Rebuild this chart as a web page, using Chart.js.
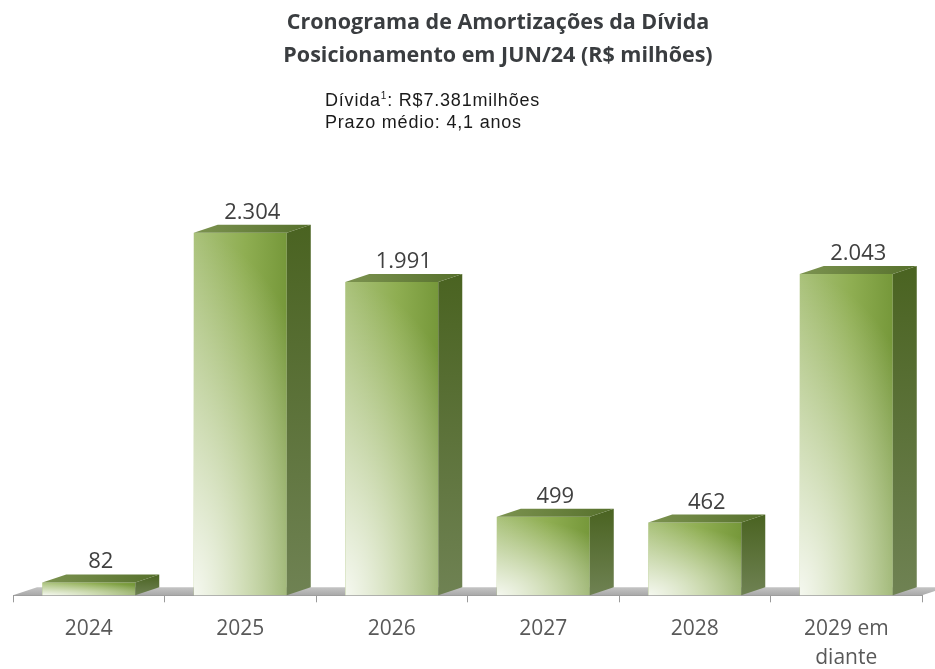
<!DOCTYPE html>
<html>
<head>
<meta charset="utf-8">
<script src="https://cdn.jsdelivr.net/npm/chart.js@4.4.1/dist/chart.umd.min.js"></script>
<style>
  body { margin: 0; background: #fff; }
  #wrap { position: relative; width: 935px; height: 669px; }
  #chart { position: absolute; left: 0; top: 0; }
  .titulo {
    position: absolute; left: 498px; top: 4px; transform: translateX(-50%);
    font-family: "Open Sans", sans-serif; font-weight: 700; font-size: 21.5px;
    line-height: 33px; color: #3a3d40; text-align: center; white-space: nowrap;
  }
  .info {
    position: absolute; left: 325px; top: 89px;
    font-family: "Liberation Sans", Arial, sans-serif; font-size: 18px;
    letter-spacing: 0.8px;
    line-height: 22px; color: #1a1a1a; white-space: nowrap;
  }
  .info sup { font-size: 10px; vertical-align: 7px; line-height: 0; }
</style>
</head>
<body>
<div id="wrap">
  <canvas id="chart" width="935" height="669"></canvas>
  <div class="titulo">Cronograma de Amortizações da Dívida<br>Posicionamento em JUN/24 (R$ milhões)</div>
  <div class="info">Dívida<sup>1</sup>: R$7.381milhões<br>Prazo médio: 4,1 anos</div>
</div>
<script>
// dados do gráfico (R$ milhões)
const categories = ['2024', '2025', '2026', '2027', '2028', ['2029 em', 'diante']];
const amortizacoes = [82, 2304, 1991, 499, 462, 2043];
const yMax = 2500;

// profundidade do efeito 3D
const dx = 24;
const dy = 8;

function formatBR(v) {
    return String(v).replace(/\B(?=(\d{3})+(?!\d))/g, '.');
}

// gradiente horizontal da face frontal, calculado pela escala x
function frontFill(context) {
    const chart = context.chart;
    const xs = chart.scales.x;
    if (!xs || !chart.chartArea) return '#8aab4a';
    const cx = xs.getPixelForValue(context.dataIndex);
    const w = (xs.width / categories.length) * 0.614;
    const g = chart.ctx.createLinearGradient(cx - w / 2, 0, cx + w / 2, 0);
    g.addColorStop(0, '#aac27b');
    g.addColorStop(0.55, '#8fae52');
    g.addColorStop(1, '#76983a');
    return g;
}

const bars3d = {
    id: 'bars3d',
    beforeDatasetsDraw(chart) {
        const { ctx, chartArea: { left, right, bottom } } = chart;
        // piso cinza
        ctx.save();
        ctx.beginPath();
        ctx.moveTo(left, bottom);
        ctx.lineTo(right, bottom);
        ctx.lineTo(right + dx, bottom - dy);
        ctx.lineTo(left + dx, bottom - dy);
        ctx.closePath();
        const g = ctx.createLinearGradient(0, bottom - dy, 0, bottom);
        g.addColorStop(0, '#c4c4c4');
        g.addColorStop(1, '#a9a9a9');
        ctx.fillStyle = g;
        ctx.fill();
        ctx.restore();
    },
    afterDatasetsDraw(chart) {
        const { ctx } = chart;
        const meta = chart.getDatasetMeta(0);
        meta.data.forEach((bar, i) => {
            const { x, y, base, width } = bar.getProps(['x', 'y', 'base', 'width'], true);
            const x0 = x - width / 2;
            const x1 = x + width / 2;
            const h = base - y;

            // brilho branco no canto inferior esquerdo
            ctx.save();
            ctx.beginPath();
            ctx.rect(x0, y, width, h);
            ctx.clip();
            ctx.translate(x0, base);
            ctx.scale(width * 1.6, Math.max(h, 1));
            const rg = ctx.createRadialGradient(0, 0, 0, 0, 0, 1);
            rg.addColorStop(0, 'rgba(255,255,255,0.88)');
            rg.addColorStop(1, 'rgba(255,255,255,0)');
            ctx.fillStyle = rg;
            ctx.fillRect(0, -1.1, 1.2, 1.2);
            ctx.restore();

            // face lateral
            ctx.save();
            ctx.beginPath();
            ctx.moveTo(x1, y);
            ctx.lineTo(x1 + dx, y - dy);
            ctx.lineTo(x1 + dx, base - dy);
            ctx.lineTo(x1, base);
            ctx.closePath();
            const sg = ctx.createLinearGradient(0, y - dy, 0, base);
            sg.addColorStop(0, '#4a6321');
            sg.addColorStop(1, '#6f8253');
            ctx.fillStyle = sg;
            ctx.fill();

            // face superior
            ctx.beginPath();
            ctx.moveTo(x0, y);
            ctx.lineTo(x1, y);
            ctx.lineTo(x1 + dx, y - dy);
            ctx.lineTo(x0 + dx, y - dy);
            ctx.closePath();
            const tg = ctx.createLinearGradient(x0, 0, x1 + dx, 0);
            tg.addColorStop(0, '#7c9350');
            tg.addColorStop(1, '#56702c');
            ctx.fillStyle = tg;
            ctx.fill();

            // rótulo de valor
            ctx.fillStyle = '#404040';
            ctx.font = '22px "Open Sans", sans-serif';
            ctx.textAlign = 'center';
            ctx.textBaseline = 'alphabetic';
            ctx.fillText(formatBR(amortizacoes[i]), x + dx / 2, y - dy - 6);
            ctx.restore();
        });
    }
};

const ctx = document.getElementById('chart').getContext('2d');
new Chart(ctx, {
    type: 'bar',
    data: {
        labels: categories,
        datasets: [{
            label: 'Amortização',
            data: amortizacoes,
            backgroundColor: frontFill,
            borderWidth: 0,
            barPercentage: 0.614,
            categoryPercentage: 1
        }]
    },
    options: {
        responsive: false,
        animation: false,
        devicePixelRatio: 1,
        layout: { padding: { top: 202, left: 13, right: 13, bottom: -16 } },
        scales: {
            x: {
                grid: {
                    offset: true,
                    drawOnChartArea: false,
                    tickLength: 7,
                    color: '#9a9a9a'
                },
                border: { color: '#9a9a9a', width: 1 },
                ticks: {
                    color: '#595959',
                    padding: 13,
                    maxRotation: 0,
                    font: { family: '"Open Sans", sans-serif', size: 21, lineHeight: 1.35 }
                }
            },
            y: {
                display: false,
                min: 0,
                max: yMax
            }
        },
        plugins: {
            legend: { display: false },
            tooltip: { enabled: false }
        }
    },
    plugins: [bars3d]
});
</script>
</body>
</html>
